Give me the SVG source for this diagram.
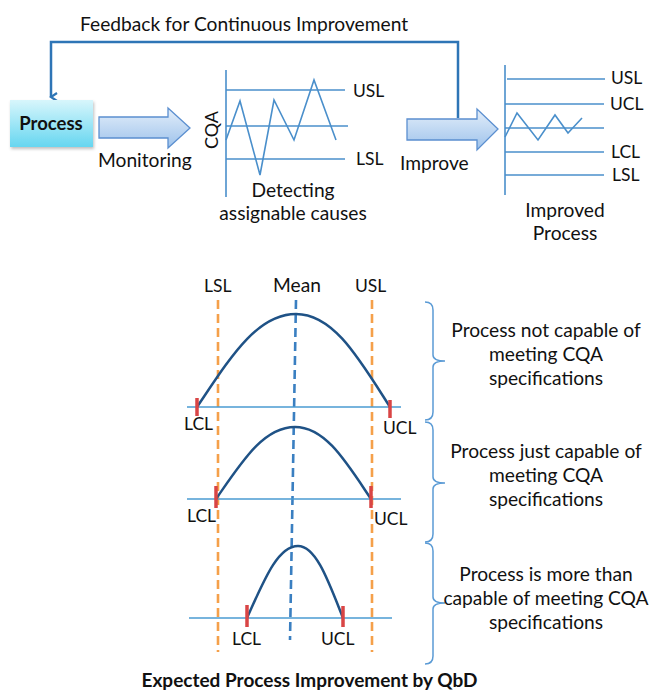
<svg xmlns="http://www.w3.org/2000/svg" width="649" height="691" viewBox="0 0 649 691">
<defs>
<linearGradient id="boxg" x1="0" y1="0" x2="0" y2="1">
<stop offset="0" stop-color="#D8F6FC"/>
<stop offset="1" stop-color="#66D6F0"/>
</linearGradient>
<linearGradient id="arrg" x1="0" y1="0" x2="0" y2="1">
<stop offset="0" stop-color="#E3EEFA"/>
<stop offset="1" stop-color="#9DC2EB"/>
</linearGradient>
<filter id="sh" x="-10%" y="-10%" width="130%" height="140%">
<feDropShadow dx="1" dy="2" stdDeviation="1.5" flood-color="#000" flood-opacity="0.25"/>
</filter>
<marker id="ah" markerWidth="10" markerHeight="10" refX="5" refY="8" orient="auto-start-reverse" markerUnits="userSpaceOnUse" viewBox="0 0 10 10">
<path d="M1,2 L5,8 L9,2" fill="none" stroke="#2E75B6" stroke-width="2.2"/>
</marker>
</defs>
<style>
text{font-family:Lato,"Liberation Sans",sans-serif;fill:#111;}
.t{font-size:19.2px;}
.c{font-size:17.5px;}
.mid{text-anchor:middle;}
.ch{stroke:#4A8FCB;stroke-width:1.6;fill:none;}
.base{stroke:#4A9BD2;stroke-width:1.5;fill:none;}
.curve{stroke:#1F5286;stroke-width:2.5;fill:none;}
.tick{stroke:#D94545;stroke-width:3.5;}
.spec{stroke:#F5A04A;stroke-width:2.6;stroke-dasharray:9 5;fill:none;}
.mean{stroke:#3A7FC1;stroke-width:2.6;stroke-dasharray:9 5;fill:none;}
.brace{stroke:#5B9BD5;stroke-width:1.5;fill:none;}
.barrow{fill:url(#arrg);stroke:#5B8FD0;stroke-width:1.3;}
</style>

<g id="connectors">
<path d="M458,118 L458,42 L51,42 L51,97" fill="none" stroke="#2E75B6" stroke-width="2.5" marker-end="url(#ah)"/>
</g>

<text class="t" x="80" y="31">Feedback for Continuous Improvement</text>

<g id="process">
<rect x="10" y="100" width="83" height="47" fill="url(#boxg)" filter="url(#sh)"/>
<text x="51" y="130" class="mid" style="font-size:18.5px;font-weight:bold;">Process</text>
</g>

<g id="monitoring-arrow">
<path class="barrow" d="M99,117 L168,117 L168,108 L190,128 L168,148 L168,138 L99,138 Z"/>
<text class="t" x="98" y="167">Monitoring</text>
</g>

<g id="detect-chart">
<line class="ch" x1="226" y1="70" x2="226" y2="197"/>
<line class="ch" x1="226" y1="90" x2="345" y2="90"/>
<line class="ch" x1="226" y1="126" x2="348" y2="126"/>
<line class="ch" x1="226" y1="159" x2="345" y2="159"/>
<polyline class="ch" points="226,140 240,101 260,175 274,100 294,140 314,80 336,140"/>
<text transform="translate(218,130) rotate(-90)" text-anchor="middle" style="font-size:18px;">CQA</text>
<text class="c" x="353" y="97">USL</text>
<text class="c" x="356" y="165">LSL</text>
<text class="t mid" x="293" y="197">Detecting</text>
<text class="t mid" x="293" y="220">assignable causes</text>
</g>

<g id="improve-arrow">
<path class="barrow" d="M407,119 L477,119 L477,109 L498,129 L477,150 L477,140 L407,140 Z"/>
<text class="t" x="400" y="170">Improve</text>
</g>

<g id="improved-chart">
<line class="ch" x1="505" y1="65" x2="505" y2="195"/>
<line class="ch" x1="507" y1="79" x2="605" y2="79"/>
<line class="ch" x1="505" y1="104" x2="604" y2="104"/>
<line class="ch" x1="505" y1="128" x2="604" y2="128"/>
<line class="ch" x1="505" y1="152" x2="604" y2="152"/>
<line class="ch" x1="505" y1="175" x2="604" y2="175"/>
<polyline class="ch" points="505,137 517,113 538,140 555,115 568,133 582,118"/>
<text class="c" x="611" y="84">USL</text>
<text class="c" x="610" y="110">UCL</text>
<text class="c" x="611" y="158">LCL</text>
<text class="c" x="612" y="181">LSL</text>
<text class="t mid" x="565" y="217">Improved</text>
<text class="t mid" x="565" y="240">Process</text>
</g>

<g id="spec-lines">
<line class="spec" x1="218" y1="300" x2="218" y2="652"/>
<line class="spec" x1="372" y1="300" x2="372" y2="652"/>
<line class="mean" x1="296" y1="300" x2="290" y2="640"/>
<text class="c" x="204" y="292">LSL</text>
<text class="t" x="273" y="292">Mean</text>
<text class="c" x="355" y="292">USL</text>
</g>

<g id="curve-not-capable">
<line class="base" x1="187" y1="407" x2="401" y2="407"/>
<path class="curve" d="M197,407 C229.7,358.6 256.4,314 296,314 C333.6,314 359,358.6 390,407"/>
<line class="tick" x1="197" y1="398" x2="197" y2="416"/>
<line class="tick" x1="390" y1="400" x2="390" y2="418"/>
<text class="c" x="184" y="430">LCL</text>
<text class="c" x="383" y="434">UCL</text>
</g>

<g id="curve-just-capable">
<line class="base" x1="187" y1="499" x2="401" y2="499"/>
<path class="curve" d="M216,499 C242,461.6 263.4,427 295,427 C325.4,427 345.9,461.6 371,499"/>
<line class="tick" x1="216" y1="486" x2="216" y2="508"/>
<line class="tick" x1="371" y1="486" x2="371" y2="508"/>
<text class="c" x="187" y="522">LCL</text>
<text class="c" x="374" y="525">UCL</text>
</g>

<g id="curve-more-capable">
<line class="base" x1="189" y1="618" x2="392" y2="618"/>
<path class="curve" d="M247,618 C263.8,580.6 277.6,546 298,546 C316,546 328.2,580.6 343,618"/>
<line class="tick" x1="247" y1="605" x2="247" y2="627"/>
<line class="tick" x1="343" y1="606" x2="343" y2="627"/>
<text class="c" x="232" y="645">LCL</text>
<text class="c" x="321" y="645">UCL</text>
</g>

<g id="brace-1">
<path class="brace" d="M425,302 Q433,302 433,310 L433,355 Q433,361 445,361 Q433,361 433,367 L433,412 Q433,420 425,420"/>
<text class="t mid" x="546" y="337">Process not capable of</text>
<text class="t mid" x="546" y="361">meeting CQA</text>
<text class="t mid" x="546" y="385">specifications</text>
</g>

<g id="brace-2">
<path class="brace" d="M425,422 Q433,422 433,430 L433,477 Q433,483 445,483 Q433,483 433,489 L433,534 Q433,542 425,542"/>
<text class="t mid" x="546" y="458">Process just capable of</text>
<text class="t mid" x="546" y="482">meeting CQA</text>
<text class="t mid" x="546" y="506">specifications</text>
</g>

<g id="brace-3">
<path class="brace" d="M425,543 Q433,543 433,551 L433,597 Q433,603 445,603 Q433,603 433,609 L433,656 Q433,664 425,664"/>
<text class="t mid" x="546" y="581">Process is more than</text>
<text class="t mid" x="546" y="605">capable of meeting CQA</text>
<text class="t mid" x="546" y="629">specifications</text>
</g>

<text x="309.5" y="687" class="mid" style="font-size:19px;font-weight:bold;">Expected Process Improvement by QbD</text>
</svg>
